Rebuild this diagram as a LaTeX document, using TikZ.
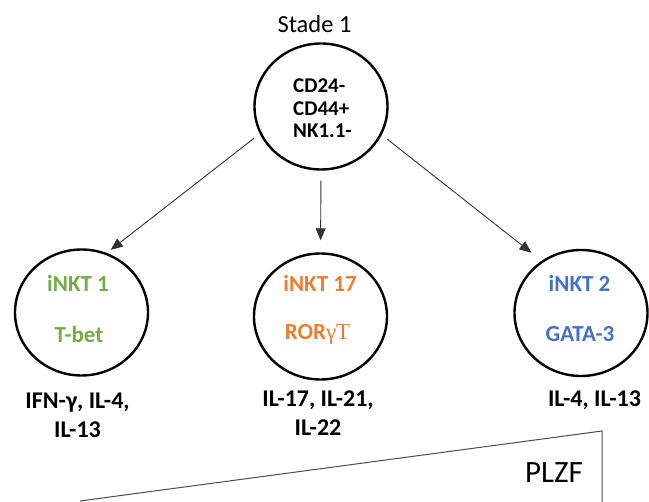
\documentclass[tikz,border=0pt]{standalone}
\usepackage{fontspec}
\setmainfont{Carlito}
\newfontfamily\serifgr{Liberation Serif}
\usetikzlibrary{shapes.geometric,arrows.meta}
\definecolor{cgreen}{RGB}{112,173,71}
\definecolor{corange}{RGB}{237,125,49}
\definecolor{cblue}{RGB}{68,114,196}
\begin{document}
\begin{tikzpicture}[x=1pt,y=-1pt,
  cell/.style={ellipse,draw=black,line width=2.4pt,minimum width=133pt,minimum height=126pt,inner sep=0pt},
  lab/.style={font=\fontsize{23}{27}\selectfont\bfseries,align=center,inner sep=0pt},
  cyto/.style={font=\fontsize{24}{29}\selectfont\bfseries,align=center,inner sep=0pt},
  conn/.style={draw=black!80,line width=0.9pt,-{Triangle[length=12pt,width=10pt]}}]
\useasboundingbox (0,0) rectangle (649,502);
\node[cell] (top) at (321,106.5) {};
\node[cell] (n1) at (81.5,312.5) {};
\node[cell] (n17) at (320.5,316.5) {};
\node[cell] (n2) at (581,313) {};
\node[font=\fontsize{24.5}{28}\selectfont,inner sep=0pt] (stade) at (314.5,24.5) {Stade 1};
\node[font=\fontsize{21}{22.5}\selectfont\bfseries,align=left,inner sep=0pt,anchor=west] (topt) at (293,108.5) {CD24-\\CD44+\\NK1.1-};
\node[lab,text=cgreen] (a1) at (78,283.5) {iNKT 1};
\node[lab,text=cgreen] (b1) at (79,334.5) {T-bet};
\node[lab,text=corange] (a17) at (320,283.5) {iNKT 17};
\node[lab,text=corange] (b17) at (317.5,334.5) {ROR{\serifgr\mdseries γT}};
\node[lab,text=cblue] (a2) at (579.5,283.5) {iNKT 2};
\node[lab,text=cblue] (b2) at (580,334.5) {GATA-3};
\node[cyto] (c1) at (77.5,415) {IFN-γ, IL-4,\\IL-13};
\node[cyto] (c17) at (318,413.5) {IL-17, IL-21,\\IL-22};
\node[cyto] (c2) at (594.5,400.5) {IL-4, IL-13};
\draw[conn,shorten <=7pt,shorten >=5pt] (top.204.8) -- (n1.67.3);
\draw[conn,shorten <=10pt,shorten >=12pt] (top.270) -- (n17.90);
\draw[conn,shorten <=7pt,shorten >=13pt] (top.335.2) -- (n2.127.2);
\coordinate (tl) at (80,501);
\coordinate (tr) at (602,431);
\coordinate (br) at (602,502);
\draw[black!70,line width=1pt] (tl) -- (tr) -- (br);
\node[font=\fontsize{31}{34}\selectfont,inner sep=0pt] (plzf) at (554,473) {PLZF};
\end{tikzpicture}
\end{document}
